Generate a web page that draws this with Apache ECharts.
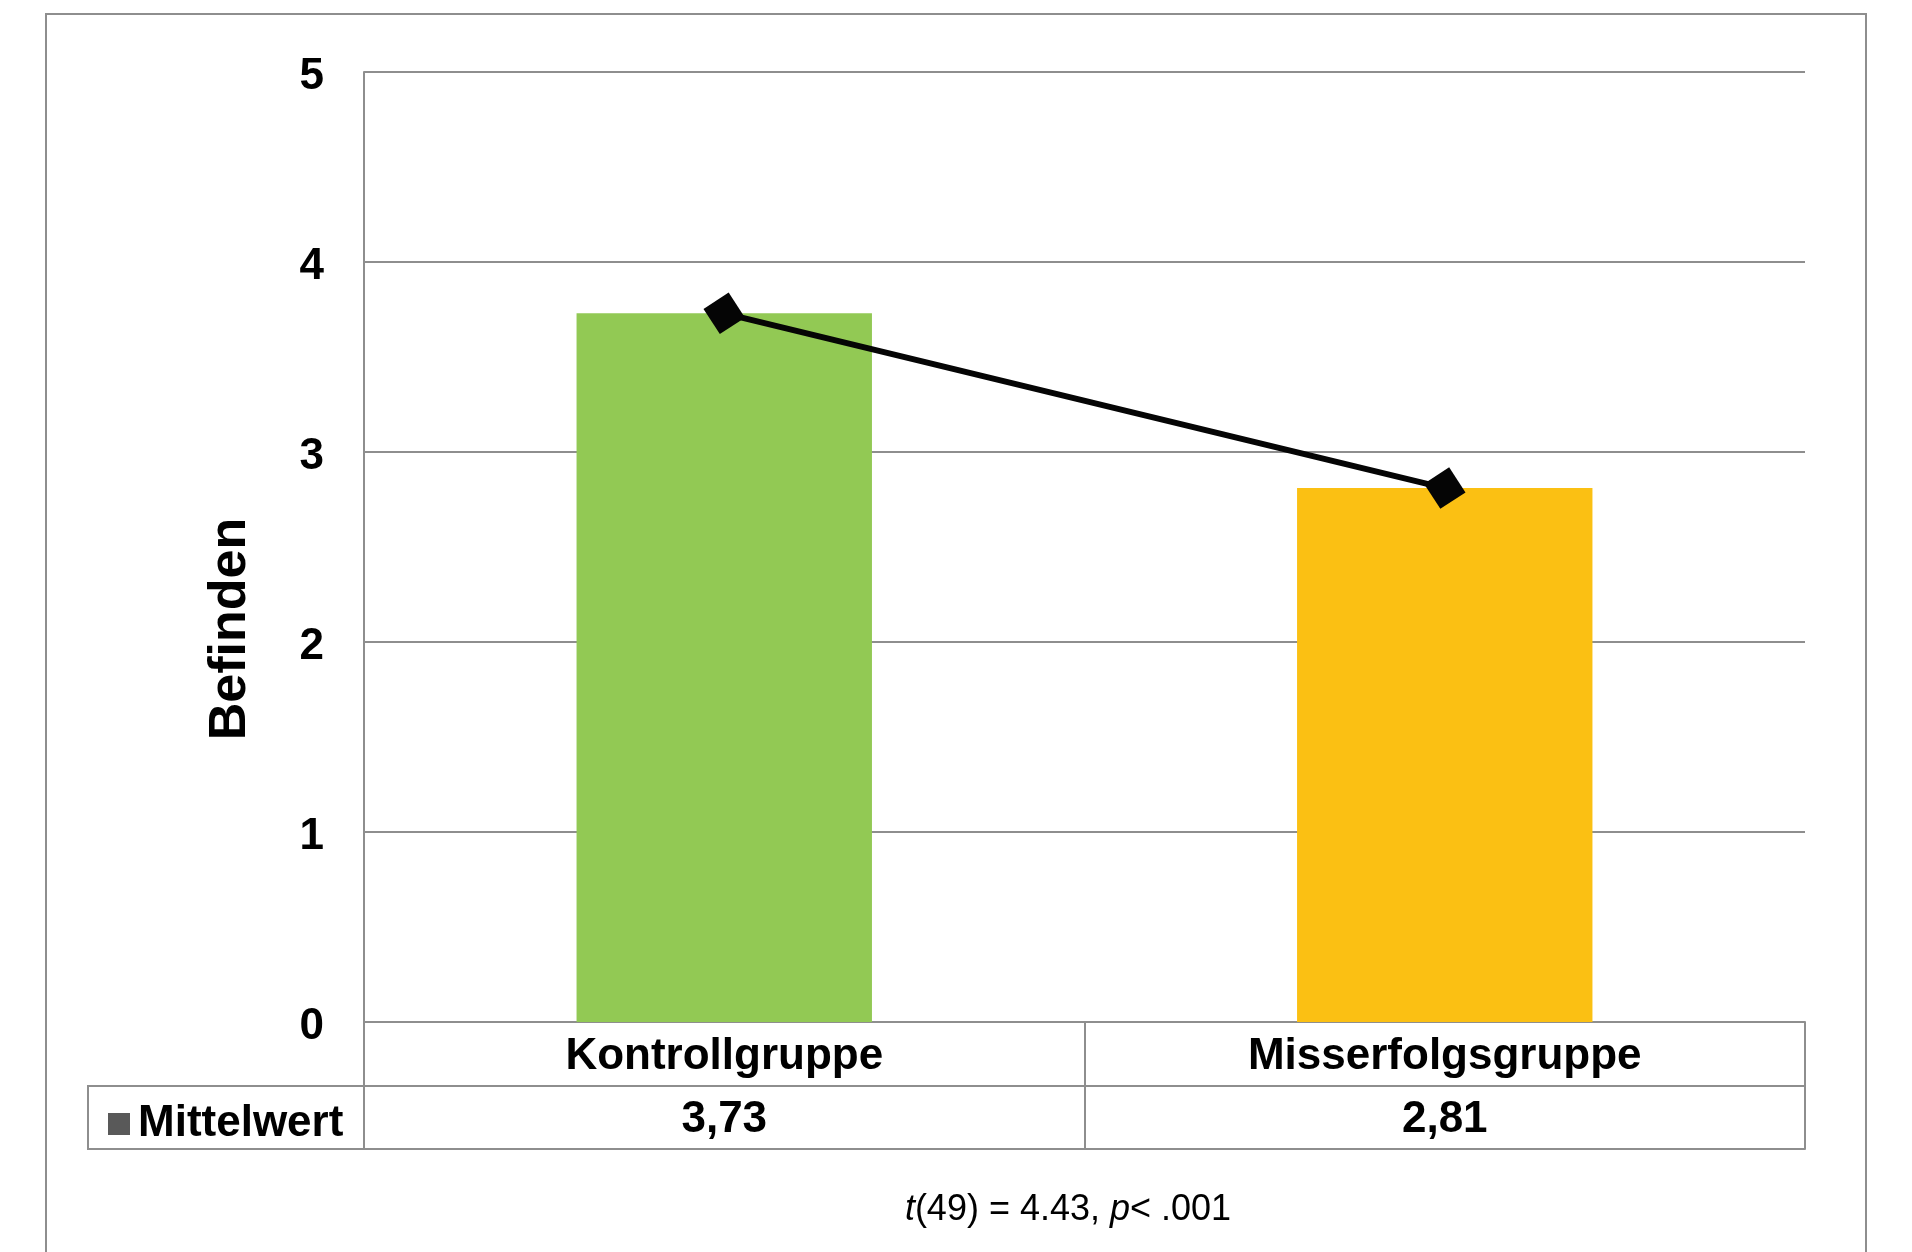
<!DOCTYPE html>
<html>
<head>
<meta charset="utf-8">
<script src="https://cdn.jsdelivr.net/npm/echarts@6/dist/echarts.min.js"></script>
<style>
  html, body { margin: 0; padding: 0; background: #ffffff; }
  #chart { width: 1912px; height: 1252px; }
</style>
</head>
<body>
<div id="chart"></div>
<script>
// Group means of "Befinden"
const categories = ['Kontrollgruppe', 'Misserfolgsgruppe'];
const means = [3.73, 2.81];
const barColors = ['#92C954', '#FBC013'];
const seriesName = 'Mittelwert';
const yMin = 0;
const yMax = 5;
const yStep = 1;
const axisTitle = 'Befinden';
const statParts = [['i', 't'], ['n', '(49) = 4.43, '], ['i', 'p'], ['n', '< .001']];

const GRID = { left: 364, right: 107, top: 72, bottom: 230 };
const ROW_H = 64;
const LINE = '#8e8e8e';
const FONT = '"Liberation Sans", Arial, sans-serif';

const fmtDe = v => v.toFixed(2).replace('.', ',');

const chart = echarts.init(document.getElementById('chart'), null, { renderer: 'canvas' });

const tableAxisBase = {
  type: 'category',
  data: categories,
  position: 'bottom',
  gridIndex: 0,
  boundaryGap: true,
  splitLine: { show: false },
  axisLine: { show: true, lineStyle: { color: LINE, width: 2 } },
  axisTick: { show: false }
};

chart.setOption({
  animation: false,
  backgroundColor: '#ffffff',
  grid: GRID,
  legend: {
    show: true,
    left: 103,
    top: 1097,
    itemWidth: 22,
    itemHeight: 22,
    itemGap: 0,
    selectedMode: false,
    data: [{ name: seriesName, icon: 'rect', itemStyle: { color: '#595959' } }],
    textStyle: { fontFamily: FONT, fontSize: 44, fontWeight: 'bold', color: '#000000', padding: [0, 0, 0, 3] }
  },
  xAxis: [
    Object.assign({}, tableAxisBase, {
      axisTick: { show: true, interval: 0, length: ROW_H * 2 - 1, lineStyle: { color: LINE, width: 2 } },
      axisLabel: {
        interval: 0, margin: 35, verticalAlign: 'middle',
        fontFamily: FONT, fontSize: 44, fontWeight: 'bold', color: '#000000'
      }
    }),
    Object.assign({}, tableAxisBase, {
      offset: ROW_H,
      axisLabel: {
        interval: 0, margin: 34, verticalAlign: 'middle',
        fontFamily: FONT, fontSize: 44, fontWeight: 'bold', color: '#000000',
        formatter: (v, i) => fmtDe(means[i])
      }
    }),
    Object.assign({}, tableAxisBase, {
      offset: ROW_H * 2 - 1,
      axisLabel: { show: false }
    })
  ],
  yAxis: {
    type: 'value',
    min: yMin,
    max: yMax,
    interval: yStep,
    axisLine: { show: true, lineStyle: { color: LINE, width: 2 } },
    axisTick: { show: false },
    splitLine: { show: true, lineStyle: { color: LINE, width: 2 } },
    axisLabel: {
      margin: 40,
      formatter: v => '{t|' + v + '}',
      rich: {
        t: {
          padding: [9, 0, 0, 0],
          fontFamily: FONT, fontSize: 44, fontWeight: 'bold', color: '#000000'
        }
      }
    }
  },
  series: [
    {
      type: 'bar',
      name: 'Gruppen',
      xAxisIndex: 0,
      barWidth: '41%',
      z: 1,
      data: means.map((v, i) => ({ value: v, itemStyle: { color: barColors[i] } }))
    },
    {
      type: 'line',
      name: seriesName,
      xAxisIndex: 0,
      data: means,
      z: 5,
      symbol: 'rect',
      symbolSize: 30,
      symbolRotate: 33,
      itemStyle: { color: '#050505' },
      lineStyle: { color: '#050505', width: 6 }
    }
  ],
  graphic: [
    {
      type: 'rect',
      silent: true,
      shape: { x: 46, y: 14, width: 1820, height: 1300 },
      style: { fill: 'none', stroke: LINE, lineWidth: 2 }
    },
    {
      type: 'rect',
      silent: true,
      shape: { x: 88, y: 1022 + ROW_H, width: GRID.left - 88, height: ROW_H - 1 },
      style: { fill: 'none', stroke: LINE, lineWidth: 2 }
    },
    {
      type: 'text',
      silent: true,
      x: 231,
      y: 629,
      rotation: Math.PI / 2,
      style: {
        text: axisTitle,
        align: 'center',
        verticalAlign: 'middle',
        fontFamily: FONT,
        fontSize: 52,
        fontWeight: 'bold',
        fill: '#000000'
      }
    },
    {
      type: 'text',
      silent: true,
      x: 1068,
      y: 1210,
      style: {
        text: statParts.map(p => '{' + p[0] + '|' + p[1] + '}').join(''),
        align: 'center',
        verticalAlign: 'middle',
        rich: {
          i: { fontFamily: FONT, fontSize: 36, fontStyle: 'italic', fill: '#000000' },
          n: { fontFamily: FONT, fontSize: 36, fill: '#000000' }
        }
      }
    }
  ]
});
</script>
</body>
</html>
